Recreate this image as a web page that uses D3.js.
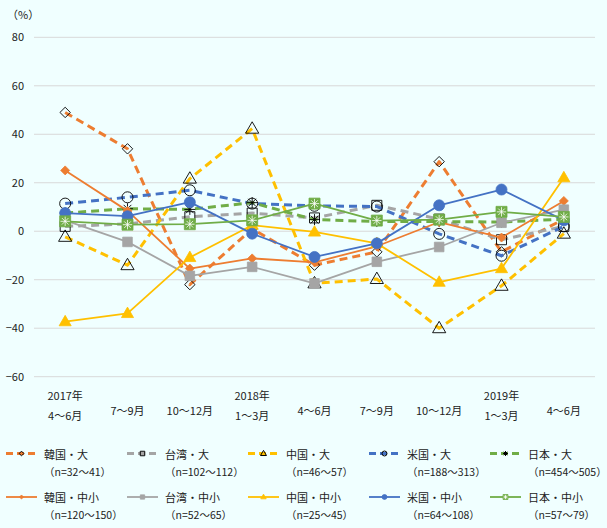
<!DOCTYPE html>
<html><head><meta charset="utf-8">
<script src="https://cdn.jsdelivr.net/npm/d3@7"></script>
<style>
html,body{margin:0;padding:0;background:#F0FFFF;}
svg{display:block;}
text{font-family:"Noto Sans CJK JP","Noto Sans",sans-serif;fill:#222;}
</style></head>
<body><svg id="c" width="607" height="528"></svg>
<script>
const categories = ["2017年|4～6月","7～9月","10～12月","2018年|1～3月","4～6月","7～9月","10～12月","2019年|1～3月","4～6月"];
const yTicks = [-60,-40,-20,0,20,40,60,80];

const seriesNames = ["韓国・大","台湾・大","中国・大","米国・大","日本・大","韓国・中小","台湾・中小","中国・中小","米国・中小","日本・中小"];
const seriesN = ["（n=32～41）","（n=102～112）","（n=46～57）","（n=188～313）","（n=454～505）","（n=120～150）","（n=52～65）","（n=25～45）","（n=64～108）","（n=57～79）"];

const koreaLarge  = [49, 34, -22, 1, -14, -8.5, 28.7, -8.5, 5];
const taiwanLarge = [2, 3, 6, 7.5, 5.5, 10.7, 5, -3.5, 2];
const chinaLarge  = [-2.3, -14, 21.7, 42.3, -21.5, -19.7, -40, -22.5, -1];
const usLarge     = [11.4, 14, 16.9, 11.4, 10.5, 10.2, -1.1, -10.1, 2];
const japanLarge  = [7.5, 9.3, 9, 11.8, 4.8, 4, 4, 3.8, 5];
const koreaSme    = [25.1, 8.4, -15.4, -11.2, -12.8, -6.2, 3.8, -2.6, 12.5];
const taiwanSme   = [4.5, -4.4, -18.4, -14.7, -21.5, -12.6, -6.5, 3.5, 8.9];
const chinaSme    = [-37.3, -33.9, -10.8, 2.5, -0.3, -5, -21, -15.4, 22.1];
const usSme       = [7.5, 6.2, 12, -1, -10.6, -5, 10.7, 17.2, 4.5];
const japanSme    = [4.1, 2.7, 2.9, 4.5, 11.4, 4.4, 4.8, 8, 5.9];

const seriesValues = [koreaLarge, taiwanLarge, chinaLarge, usLarge, japanLarge, koreaSme, taiwanSme, chinaSme, usSme, japanSme];
const colors = ["#ED7D31","#A5A5A5","#FFC000","#4472C4","#70AD47","#ED7D31","#A5A5A5","#FFC000","#4472C4","#70AD47"];
const markerTypes = ["diamond","square","triangle","circle","star","diamond","square","triangle","circle","square"];
const dashed = [true,true,true,true,true,false,false,false,false,false];

const svg = d3.select("#c");
const idx = d3.range(categories.length);
const x = d3.scalePoint().domain(idx).range([34, 595]).padding(0.5);
const y = d3.scaleLinear().domain([-60, 80]).range([376.7, 37.3]);

// gridlines
svg.append("g").selectAll("line").data(yTicks).join("line")
  .attr("x1", 34).attr("x2", 595)
  .attr("y1", d => y(d)).attr("y2", d => y(d))
  .attr("stroke", "#D9D9D9").attr("stroke-width", 1);

// y axis labels
const yAxis = d3.axisLeft(y).tickValues(yTicks).tickSize(0).tickPadding(0);
const ya = svg.append("g").attr("transform", "translate(24,0)").call(yAxis);
ya.select(".domain").remove();
ya.selectAll("text").style("font-size","11px").attr("fill","#222")
  .style("font-family",'"Noto Sans CJK JP","Noto Sans",sans-serif');

svg.append("text").attr("x", 7).attr("y", 14).attr("dominant-baseline","central")
  .style("font-size","11px").text("（%）");

// x labels
const xl = svg.append("g");
categories.forEach((c, i) => {
  const parts = c.split("|");
  if (parts.length === 2) {
    xl.append("text").attr("x", x(i)).attr("y", 395).attr("text-anchor","middle")
      .attr("dominant-baseline","central").style("font-size","11px").text(parts[0]);
    xl.append("text").attr("x", x(i)).attr("y", 415).attr("text-anchor","middle")
      .attr("dominant-baseline","central").style("font-size","11px").text(parts[1]);
  } else {
    xl.append("text").attr("x", x(i)).attr("y", 410).attr("text-anchor","middle")
      .attr("dominant-baseline","central").style("font-size","11px").text(c);
  }
});

function markerPath(type, r) {
  if (type === "diamond") return `M0,${-r}L${r},0L0,${r}L${-r},0Z`;
  if (type === "square") return `M${-r},${-r}H${r}V${r}H${-r}Z`;
  if (type === "triangle") return `M0,${-r*1.15}L${r*1.1},${r*0.75}L${-r*1.1},${r*0.75}Z`;
  if (type === "circle") return `M${r},0A${r},${r},0,1,1,${-r},0A${r},${r},0,1,1,${r},0Z`;
  if (type === "star") return `M${-r},0H${r}M0,${-r}V${r}M${-r*0.7},${-r*0.7}L${r*0.7},${r*0.7}M${-r*0.7},${r*0.7}L${r*0.7},${-r*0.7}`;
  return "";
}

function drawMarker(g, i, px, py, scale) {
  const t = markerTypes[i];
  const large = dashed[i];
  const s = scale || 1;
  if (large) {
    const rr = {diamond:5.2, square:5, triangle:6, circle:5.5, star:5.5}[t] * s;
    g.append("path").attr("transform", `translate(${px},${py})`)
      .attr("d", markerPath(t, rr)).attr("fill", "none")
      .attr("stroke", "#000").attr("stroke-width", s < 1 ? 1 : 0.9);
  } else if (i === 9) {
    const rr = 5.5 * s;
    const gg = g.append("g").attr("transform", `translate(${px},${py})`);
    gg.append("path").attr("d", markerPath("square", rr)).attr("fill", colors[i])
      .attr("stroke", colors[i]).attr("stroke-width", 0.8);
    gg.append("path").attr("d", markerPath("star", rr*0.85)).attr("fill","none")
      .attr("stroke", "#fff").attr("stroke-width", 0.8);
  } else {
    const rr = {diamond:4.5, square:4.8, triangle:5.5, circle:5.5}[t] * s;
    g.append("path").attr("transform", `translate(${px},${py})`)
      .attr("d", markerPath(t, rr)).attr("fill", colors[i])
      .attr("stroke", colors[i]).attr("stroke-width", 0.8);
  }
}

const line = d3.line().x((d, j) => x(j)).y(d => y(d));
const plot = svg.append("g");
seriesValues.forEach((vals, i) => {
  const g = plot.append("g");
  g.append("path").datum(vals).attr("d", line).attr("fill","none")
    .attr("stroke", colors[i])
    .attr("stroke-width", dashed[i] ? 3 : 1.8)
    .attr("stroke-dasharray", dashed[i] ? "8,5" : null)
    .attr("stroke-linejoin","round");
  vals.forEach((v, j) => drawMarker(g, i, x(j), y(v), 1));
});

// legend
const legX = [6, 127, 248, 369, 490];
const legRowY = [453.5, 497];
const leg = svg.append("g");
seriesNames.forEach((name, i) => {
  const col = i % 5, row = Math.floor(i / 5);
  const lx = legX[col], ly = legRowY[row];
  leg.append("line").attr("x1", lx).attr("x2", lx + 31).attr("y1", ly).attr("y2", ly)
    .attr("stroke", colors[i]).attr("stroke-width", dashed[i] ? 3 : 1.8)
    .attr("stroke-dasharray", dashed[i] ? "7,4" : null);
  drawMarker(leg, i, lx + 15.5, ly, 0.45);
  leg.append("text").attr("x", lx + 38).attr("y", ly).attr("dominant-baseline","central")
    .style("font-size","11px").text(name);
  leg.append("text").attr("x", lx + 38).attr("y", ly + 17.5).attr("dominant-baseline","central")
    .style("font-size","10.5px").text(seriesN[i]);
});
</script>
</body></html>
